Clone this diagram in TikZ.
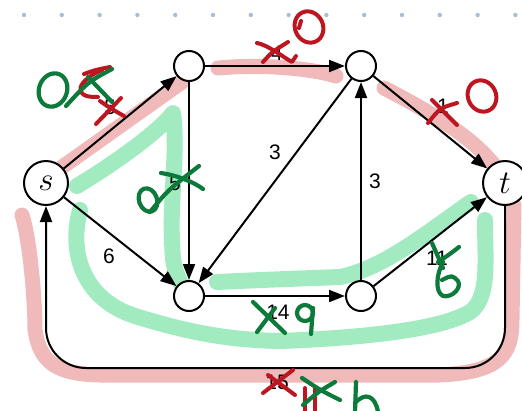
\documentclass[tikz,border=0pt]{standalone}
\usepackage{fontspec}
\setmainfont{Liberation Sans}
\usetikzlibrary{arrows.meta, positioning}
\definecolor{hlpink}{RGB}{230,140,140}
\definecolor{hlgreen}{RGB}{100,222,152}
\definecolor{penred}{HTML}{BE1620}
\definecolor{pengreen}{HTML}{0B7A3B}
\definecolor{dotblue}{HTML}{A9BCD8}
\newcommand{\termlabel}[1]{\scalebox{1.6}{$#1$}}

\begin{document}
\begin{tikzpicture}[x=1pt, y=-1pt, node distance=172pt, on grid,
  vertex/.style={circle, draw, line width=2pt, fill=white, minimum size=30pt, inner sep=0pt},
  term/.style={vertex, minimum size=44pt, font=\fontsize{20.74}{24}\selectfont},
  arrowline/.style={-{Triangle[length=16pt, width=12pt]}, line width=2pt},
  wt/.style={font=\fontsize{21}{24}\selectfont, inner sep=0pt},
  hlred/.style={draw=hlpink, opacity=.6, line width=15pt, line cap=round, line join=round},
  hlgrn/.style={draw=hlgreen, opacity=.6, line width=16pt, line cap=round, line join=round},
  redpen/.style={draw=penred, line width=4pt, line cap=round, line join=round},
  grnpen/.style={draw=pengreen, line width=4.2pt, line cap=round, line join=round}]
\useasboundingbox (0,0) rectangle (522,410);

% dotted guide line
\foreach \i in {0,...,13}
  \fill[dotblue] ({24+\i*37.8},15) circle (2.2pt);

% highlighted paths
\draw[hlred] (58,170) -- (182,82);
\draw[hlred] (218,68) .. controls (260,64) and (310,68) .. (336,76);
\draw[hlred] (384,88) .. controls (430,112) and (470,135) .. (494,165);
\draw[hlred] (22,215) .. controls (30,240) and (35,300) .. (35,330)
  .. controls (40,365) and (60,374) .. (100,375) -- (440,375)
  .. controls (500,372) and (512,355) .. (512,320) -- (514,205);
\draw[hlgrn] (77,186) .. controls (120,160) and (160,130) .. (173,113)
  .. controls (178,150) and (170,200) .. (172,240) .. controls (173,265) .. (181,284);
\draw[hlgrn] (217,282) .. controls (260,280) .. (340,277)
  .. controls (385,268) and (430,230) .. (471,202);
\draw[hlgrn] (80,210) .. controls (68,255) and (85,300) .. (135,316)
  .. controls (190,333) and (230,340) .. (280,341)
  .. controls (360,338) and (440,330) .. (470,312)
  .. controls (490,298) and (485,260) .. (485,220);

% graph
\node[term] (s) at (46,183) {\termlabel{s}};
\node[term] (t) at (505,183) {\termlabel{t}};
\node[vertex] (a) at (189,66) {};
\node[vertex, right=of a] (b) {};
\node[vertex, below=230pt of a] (c) {};
\node[vertex, below=230pt of b] (d) {};
\coordinate (loopy) at (0,368);

\draw[arrowline] (s) -- (a);
\draw[arrowline] (a) -- (b);
\draw[arrowline] (b) -- (t);
\draw[arrowline] (a) -- (c);
\draw[arrowline] (b) -- (c);
\draw[arrowline] (d) -- (b);
\draw[arrowline] (s) -- (c);
\draw[arrowline] (c) -- (d);
\draw[arrowline] (d) -- (t);
\draw[arrowline, rounded corners=40pt] (t.south) |- (s.south |- loopy) -- (s.south);

\node[wt] (wsa) at (110,107) {5};
\node[wt] (wab) at (277,53) {4};
\node[wt] (wbt) at (443,106) {1};
\node[wt] (wac) at (175,183) {5};
\node[wt] (wbc) at (275,152) {3};
\node[wt] (wdb) at (375,181) {3};
\node[wt] (wsc) at (109,256) {6};
\node[wt] (wcd) at (278,312) {14};
\node[wt] (wdt) at (437,258) {11};
\node[wt] (wts) at (277,382) {15};

% red pen
\draw[redpen] (84,74) .. controls (95,70) .. (110,67);
\draw[redpen] (102,70) .. controls (78,80) and (70,98) .. (98,97);
\draw[redpen] (96,124) -- (121,98);
\draw[redpen] (100,101) .. controls (110,108) .. (124,116);
\draw[redpen] (257,43) .. controls (268,45) and (283,57) .. (292,62) -- (296,56);
\draw[redpen] (263,62) .. controls (272,52) .. (288,42);
\draw[redpen, rotate around={25:(309,27)}] (309,27) ellipse (14pt and 16pt);
\draw[redpen] (301,21) -- (299,28);
\draw[redpen] (432,100) -- (457,125);
\draw[redpen] (428,123) .. controls (440,108) .. (457,103);
\draw[redpen, rotate around={25:(482,96)}] (482,96) ellipse (14pt and 16pt);
\draw[redpen] (263,393) -- (293,370);
\draw[redpen] (268,375) -- (295,395);
\draw[redpen] (305,388) -- (305,412);
\draw[redpen] (315,388) -- (315,412);

% green pen
\draw[grnpen, rotate around={-20:(53,90)}] (53,90) ellipse (14pt and 17pt);
\draw[grnpen] (66,106) .. controls (88,82) .. (112,69);
\draw[grnpen] (88,77) -- (112,102);
\draw[grnpen, rotate around={20:(148,200)}] (148,200) ellipse (9pt and 12pt);
\draw[grnpen] (150,212) .. controls (168,190) .. (199,166);
\draw[grnpen] (161,173) .. controls (180,176) and (195,183) .. (203,189);
\draw[grnpen] (253,302) -- (285,333);
\draw[grnpen] (257,332) -- (275,308);
\draw[grnpen] (305,313) circle (8pt);
\draw[grnpen] (313,308) -- (311,334);
\draw[grnpen] (432,243) .. controls (437,256) .. (443,268);
\draw[grnpen] (459,247) .. controls (450,254) .. (438,262);
\draw[grnpen] (443,262) .. controls (436,275) and (435,292) .. (443,296)
  .. controls (452,298) and (462,288) .. (458,281) .. controls (452,275) .. (442,280);
\draw[grnpen] (302,378) .. controls (320,390) .. (340,400);
\draw[grnpen] (303,405) .. controls (318,392) .. (335,382);
\draw[grnpen] (356,382) -- (355,412);
\draw[grnpen] (355,403) .. controls (365,392) and (375,395) .. (378,412);
\end{tikzpicture}
\end{document}
